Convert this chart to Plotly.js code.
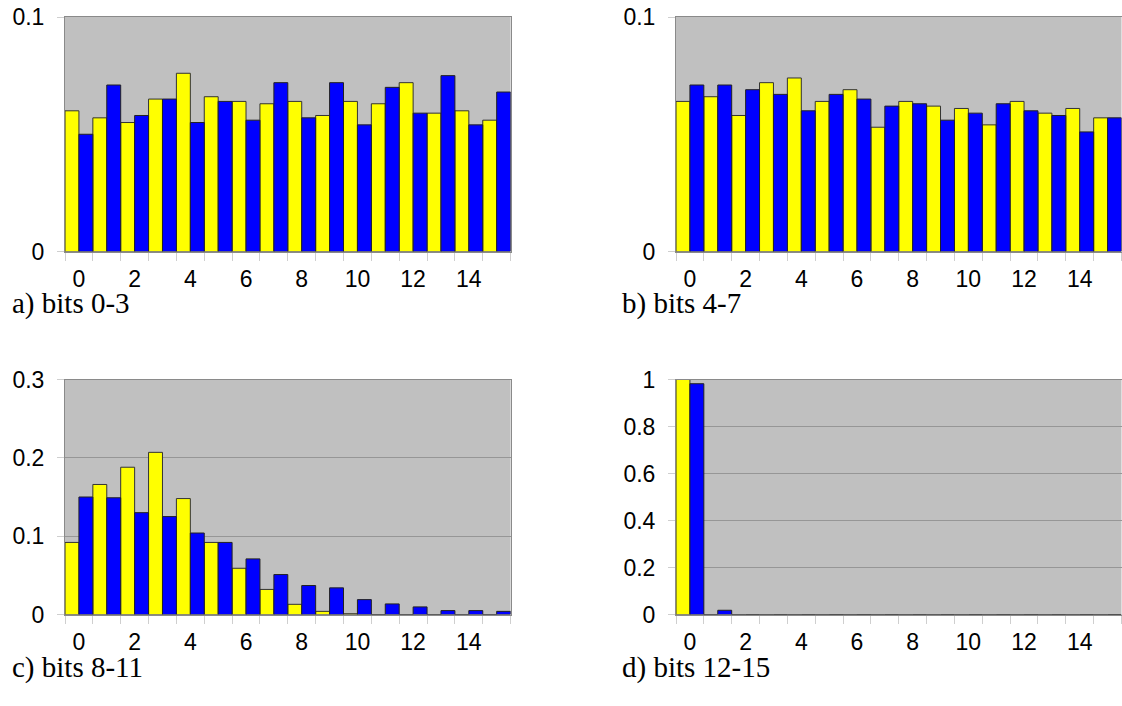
<!DOCTYPE html>
<html>
<head>
<meta charset="utf-8">
<script src="https://cdn.plot.ly/plotly-3.0.1.min.js"></script>
<style>
  html, body { margin: 0; padding: 0; background: #ffffff; }
  #chart { width: 1122px; height: 706px; }
</style>
</head>
<body>
<div id="chart"></div>
<script>
// Categories (4-bit values 0..15)
const categories = [0, 1, 2, 3, 4, 5, 6, 7, 8, 9, 10, 11, 12, 13, 14, 15];
const xTickVals = [0, 2, 4, 6, 8, 10, 12, 14];
const xTickText = ["0", "2", "4", "6", "8", "10", "12", "14"];

// a) bits 0-3
const yellowA = [0.060, 0.057, 0.055, 0.065, 0.076, 0.066, 0.064, 0.063, 0.064, 0.058, 0.064, 0.063, 0.072, 0.059, 0.060, 0.056];
const blueA   = [0.050, 0.071, 0.058, 0.065, 0.055, 0.064, 0.056, 0.072, 0.057, 0.072, 0.054, 0.070, 0.059, 0.075, 0.054, 0.068];
// b) bits 4-7
const yellowB = [0.064, 0.066, 0.058, 0.072, 0.074, 0.064, 0.069, 0.053, 0.064, 0.062, 0.061, 0.054, 0.064, 0.059, 0.061, 0.057];
const blueB   = [0.071, 0.071, 0.069, 0.067, 0.060, 0.067, 0.065, 0.062, 0.063, 0.056, 0.059, 0.063, 0.060, 0.058, 0.051, 0.057];
// c) bits 8-11
const yellowC = [0.092, 0.166, 0.188, 0.207, 0.148, 0.092, 0.059, 0.032, 0.013, 0.004, 0.001, 0, 0, 0, 0, 0];
const blueC   = [0.150, 0.149, 0.130, 0.125, 0.104, 0.092, 0.071, 0.051, 0.037, 0.034, 0.019, 0.0135, 0.0097, 0.005, 0.005, 0.004];
// d) bits 12-15
const yellowD = [1.0, 0, 0, 0, 0, 0, 0, 0, 0, 0, 0, 0, 0, 0, 0, 0];
const blueD   = [0.982, 0.018, 0, 0, 0, 0, 0, 0, 0, 0, 0, 0, 0, 0, 0, 0];

// y ticks per panel
const yTicksA = [0, 0.1];
const yTicksB = [0, 0.1];
const yTicksC = [0, 0.1, 0.2, 0.3];
const yTicksD = [0, 0.2, 0.4, 0.6, 0.8, 1];

const captions = ["a) bits 0-3", "b) bits 4-7", "c) bits 8-11", "d) bits 12-15"];

const W = 1122, H = 706;
const panels = [
  {y1: yellowA, y2: blueA, yr: [0, 0.1], yt: yTicksA, left: 65, right: 510.6, top: 17, bottom: 251.5},
  {y1: yellowB, y2: blueB, yr: [0, 0.1], yt: yTicksB, left: 676, right: 1121.5, top: 17, bottom: 251.5},
  {y1: yellowC, y2: blueC, yr: [0, 0.3], yt: yTicksC, left: 65, right: 510.6, top: 379.5, bottom: 614.5},
  {y1: yellowD, y2: blueD, yr: [0, 1], yt: yTicksD, left: 676, right: 1121.5, top: 379.5, bottom: 614.5}
];

const tickFont = {family: "Liberation Sans, Arial, sans-serif", size: 23, color: "#000000"};
const data = [];
const layout = {
  width: W, height: H,
  margin: {l: 0, r: 0, t: 0, b: 0, pad: 0},
  paper_bgcolor: "#ffffff",
  plot_bgcolor: "#c0c0c0",
  showlegend: false,
  barmode: "group",
  bargap: 0,
  bargroupgap: 0,
  annotations: []
};

panels.forEach((p, i) => {
  const n = i + 1;
  const xa = n === 1 ? "x" : "x" + n;
  const ya = n === 1 ? "y" : "y" + n;
  data.push({
    type: "bar", x: categories, y: p.y1, xaxis: xa, yaxis: ya,
    marker: {color: "#ffff00", line: {color: "#333333", width: 1}},
    hoverinfo: "x+y"
  });
  data.push({
    type: "bar", x: categories, y: p.y2, xaxis: xa, yaxis: ya,
    marker: {color: "#0000ff", line: {color: "#222222", width: 1}},
    hoverinfo: "x+y"
  });
  const xKey = n === 1 ? "xaxis" : "xaxis" + n;
  const yKey = n === 1 ? "yaxis" : "yaxis" + n;
  layout[xKey] = {
    domain: [p.left / W, p.right / W],
    anchor: ya,
    range: [-0.5, 15.5],
    tickmode: "array",
    tickvals: xTickVals,
    ticktext: xTickText,
    ticks: "outside",
    ticklen: 6,
    tickcolor: "rgba(0,0,0,0)",
    ticklabelstandoff: 1,
    tickfont: tickFont,
    showgrid: false,
    zeroline: false,
    showline: true,
    linecolor: "#8a8a8a",
    linewidth: 1,
    mirror: true,
    fixedrange: true,
    minor: {tickmode: "linear", tick0: -0.5, dtick: 1, ticks: "outside", ticklen: 8, tickcolor: "#cfcfcf", tickwidth: 1}
  };
  layout[yKey] = {
    domain: [1 - p.bottom / H, 1 - p.top / H],
    anchor: xa,
    range: p.yr,
    tickmode: "array",
    tickvals: p.yt,
    ticks: "outside",
    ticklen: 7,
    tickcolor: "#cfcfcf",
    ticklabelstandoff: 8,
    tickfont: tickFont,
    showgrid: true,
    gridcolor: "#969696",
    gridwidth: 1,
    zeroline: false,
    showline: true,
    linecolor: "#8a8a8a",
    linewidth: 1,
    mirror: true,
    fixedrange: true
  };
});

const capPos = [
  {x: 10, y: 303}, {x: 620, y: 303}, {x: 10, y: 667}, {x: 620, y: 667}
];
captions.forEach((c, i) => {
  layout.annotations.push({
    xref: "paper", yref: "paper",
    x: capPos[i].x / W, y: 1 - capPos[i].y / H,
    xanchor: "left", yanchor: "middle",
    text: c, showarrow: false,
    font: {family: "Liberation Serif, Times New Roman, serif", size: 29, color: "#000000"}
  });
});

Plotly.newPlot("chart", data, layout, {displayModeBar: false, staticPlot: true});
</script>
</body>
</html>
